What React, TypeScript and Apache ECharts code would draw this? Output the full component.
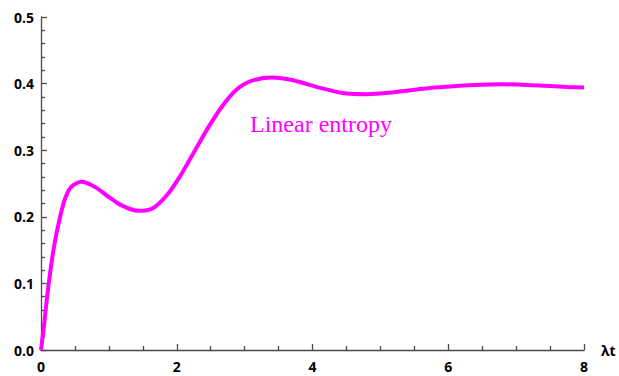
import React, { useEffect, useRef } from "react";
import * as echarts from "echarts";

const tValues = [0, 0.05, 0.09, 0.14, 0.2, 0.275, 0.35, 0.445, 0.6, 0.79, 0.97, 1.18, 1.43, 1.65, 1.86, 2.05, 2.27, 2.47, 2.67, 2.87, 3.1, 3.4, 3.71, 4.1, 4.5, 4.8, 5.2, 5.8, 6.4, 6.8, 7.25, 7.75, 8.0];
const entropyValues = [0, 0.042, 0.08, 0.12, 0.16, 0.197, 0.226, 0.245, 0.2525, 0.245, 0.232, 0.2175, 0.209, 0.213, 0.233, 0.261, 0.3, 0.335, 0.366, 0.39, 0.404, 0.409, 0.405, 0.394, 0.385, 0.384, 0.387, 0.394, 0.398, 0.399, 0.3975, 0.395, 0.394];
const seriesLabel = "Linear entropy";
const xAxisName = "λt";

export default function App() {
  const ref = useRef<HTMLDivElement>(null);
  useEffect(() => {
    if (!ref.current) return;
    const chart = echarts.init(ref.current, undefined, { renderer: "svg" });
    const tickLine = { color: "#4a4a4a", width: 1.3 };
    const axisLine = { show: true, onZero: false, lineStyle: { color: "#4a4a4a", width: 1.3 } };
    const labelStyle = { color: "#000", fontWeight: "bold" as const, fontSize: 14, fontFamily: "Open Sans" };
    chart.setOption({
      animation: false,
      backgroundColor: "#fff",
      grid: { left: 41, right: 35, top: 17, bottom: 26 },
      xAxis: {
        type: "value",
        min: 0,
        max: 8,
        interval: 2,
        name: xAxisName,
        nameLocation: "end",
        nameGap: 17,
        nameTextStyle: { ...labelStyle, fontSize: 14 },
        axisLine,
        axisTick: { show: true, inside: true, length: 6, lineStyle: tickLine },
        minorTick: { show: true, splitNumber: 4, length: 4, lineStyle: tickLine },
        splitLine: { show: false },
        axisLabel: { ...labelStyle, margin: 9 },
      },
      yAxis: {
        type: "value",
        min: 0,
        max: 0.5,
        interval: 0.1,
        axisLine,
        axisTick: { show: true, inside: true, length: 6, lineStyle: tickLine },
        minorTick: { show: true, splitNumber: 5, length: 4, lineStyle: tickLine },
        splitLine: { show: false },
        axisLabel: { ...labelStyle, margin: 7, formatter: (v: number) => v.toFixed(1) },
      },
      series: [
        {
          type: "line",
          name: seriesLabel,
          data: tValues.map((t, i) => [t, entropyValues[i]]),
          smooth: 0.3,
          showSymbol: false,
          lineStyle: { color: "#ff00ff", width: 4 },
        },
      ],
      graphic: [
        {
          type: "text",
          x: 250,
          y: 124,
          style: {
            text: seriesLabel,
            fill: "#ff00ff",
            font: "24px 'Liberation Serif'",
            verticalAlign: "middle",
            align: "left",
          },
        },
      ],
    });
    return () => chart.dispose();
  }, []);
  return <div ref={ref} style={{ position: "absolute", left: 0, top: 0, width: 619, height: 376 }} />;
}
